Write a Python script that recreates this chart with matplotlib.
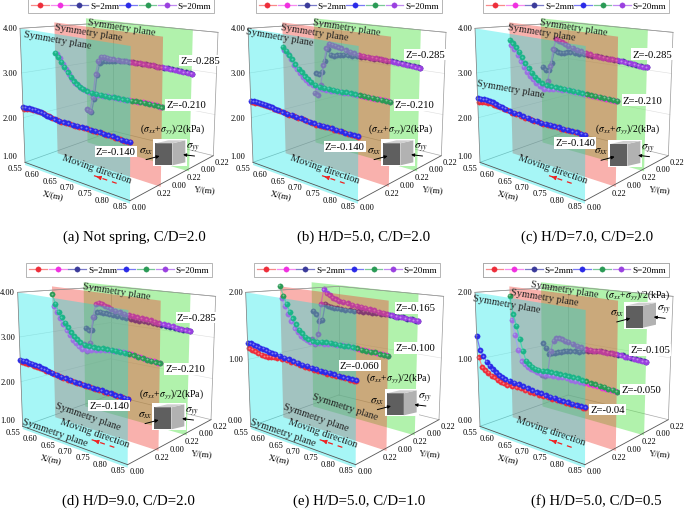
#!/usr/bin/env python3
import matplotlib
matplotlib.use('Agg')
import matplotlib.pyplot as plt
import numpy as np

plt.rcParams['font.family'] = ['Liberation Serif', 'DejaVu Serif']
plt.rcParams['mathtext.fontset'] = 'stix'

# the S=20mm runs use X_POS, the S=2mm runs sit half a step along
X_POS = [0.55, 0.5585, 0.567, 0.5755, 0.584, 0.5925, 0.601, 0.6095, 0.618, 0.6265,
         0.639, 0.6515, 0.664, 0.6765, 0.689, 0.7015, 0.714, 0.7265, 0.739, 0.7515,
         0.764, 0.7765, 0.789, 0.8015, 0.814, 0.8265, 0.839, 0.85]
X_POS_S2 = [0.554, 0.5625, 0.571, 0.5795, 0.588, 0.5965, 0.605, 0.6135, 0.622, 0.632,
            0.645, 0.6575, 0.67, 0.6825, 0.695, 0.7075, 0.72, 0.7325, 0.745, 0.7575,
            0.77, 0.7825, 0.795, 0.8075, 0.82, 0.8325, 0.844, 0.85]

# (a) Not spring, C/D=2.0
A_RED = [2.21,2.22,2.23,2.24,2.24,2.23,2.22,2.21,2.19,2.18,2.16,2.15,2.15,2.15,2.15,2.15,2.15,2.15,2.15,2.15,2.15,2.14,2.14,2.14,2.13,2.13,2.13,2.13]
A_BLUE = [2.23,2.24,2.25,2.25,2.25,2.24,2.23,2.22,2.20,2.19,2.17,2.16,2.16,2.16,2.16,2.16,2.16,2.16,2.16,2.16,2.16,2.15,2.15,2.15,2.14,2.14,2.14,2.14]
A_MAGENTA = [3.34,3.24,3.13,3.02,2.91,2.81,2.74,2.69,2.65,2.62,2.59,2.58,2.58,2.58,2.59,2.59,2.60,2.60,2.60,2.61,2.61,2.62,2.62,2.62,2.62,2.62,2.61,2.61]
A_GREEN = [3.36,3.27,3.17,3.06,2.95,2.85,2.77,2.71,2.67,2.64,2.60,2.59,2.59,2.59,2.59,2.59,2.60,2.60,2.60,2.61,2.61,2.62,2.62,2.62,2.62,2.62,2.61,2.61]
A_NAVY = [1.78,1.75,2.10,2.72,3.05,3.12,3.12,3.13,3.15,3.17,3.18,3.19,3.19,3.20,3.20,3.20,3.20,3.20,3.20,3.19,3.19,3.19,3.18,3.18,3.17,3.16,3.16,3.15]
A_PURPLE = [1.80,1.78,2.14,2.75,3.10,3.22,3.23,3.21,3.20,3.20,3.20,3.20,3.20,3.20,3.20,3.20,3.20,3.20,3.20,3.19,3.19,3.19,3.18,3.18,3.17,3.16,3.16,3.15]

# (b) H/D=5.0, C/D=2.0
B_RED = [2.35,2.36,2.37,2.37,2.37,2.36,2.35,2.34,2.33,2.32,2.31,2.30,2.30,2.29,2.28,2.27,2.26,2.25,2.25,2.25,2.25,2.25,2.25,2.25,2.24,2.24,2.24,2.24]
B_BLUE = [2.38,2.39,2.39,2.39,2.39,2.38,2.37,2.36,2.34,2.33,2.32,2.31,2.31,2.30,2.29,2.28,2.27,2.26,2.26,2.26,2.26,2.26,2.26,2.26,2.25,2.25,2.25,2.25]
B_MAGENTA = [3.42,3.34,3.24,3.12,3.02,2.94,2.87,2.81,2.76,2.73,2.70,2.69,2.69,2.69,2.70,2.70,2.71,2.72,2.72,2.72,2.72,2.72,2.72,2.72,2.73,2.73,2.73,2.73]
B_GREEN = [3.50,3.42,3.33,3.24,3.14,3.05,2.97,2.90,2.85,2.80,2.75,2.72,2.72,2.72,2.72,2.72,2.72,2.73,2.73,2.73,2.73,2.73,2.73,2.73,2.73,2.73,2.73,2.73]
B_NAVY = [2.74,2.72,2.80,3.10,3.41,3.27,3.26,3.28,3.30,3.32,3.33,3.33,3.34,3.34,3.34,3.34,3.34,3.34,3.34,3.34,3.34,3.33,3.33,3.32,3.31,3.30,3.29,3.28]
B_PURPLE = [2.23,2.17,2.45,2.98,3.42,3.55,3.53,3.51,3.49,3.47,3.44,3.42,3.40,3.38,3.37,3.36,3.35,3.35,3.35,3.34,3.34,3.33,3.33,3.32,3.31,3.30,3.29,3.28]

# (c) H/D=7.0, C/D=2.0
C_RED = [2.37,2.38,2.39,2.40,2.40,2.39,2.38,2.37,2.36,2.34,2.32,2.31,2.30,2.29,2.28,2.28,2.27,2.27,2.27,2.27,2.27,2.27,2.27,2.27,2.27,2.27,2.27,2.27]
C_BLUE = [2.43,2.44,2.45,2.45,2.44,2.43,2.41,2.39,2.38,2.36,2.34,2.33,2.32,2.31,2.30,2.29,2.29,2.28,2.28,2.28,2.28,2.28,2.28,2.28,2.28,2.28,2.28,2.28]
C_MAGENTA = [3.54,3.46,3.34,3.20,3.08,2.98,2.90,2.83,2.77,2.71,2.67,2.68,2.70,2.72,2.73,2.74,2.74,2.74,2.74,2.74,2.74,2.74,2.74,2.74,2.74,2.74,2.74,2.74]
C_GREEN = [3.67,3.60,3.52,3.42,3.30,3.17,3.07,2.98,2.90,2.84,2.78,2.76,2.76,2.76,2.76,2.76,2.76,2.76,2.76,2.75,2.75,2.75,2.75,2.75,2.75,2.75,2.75,2.75]
C_NAVY = [2.90,2.84,2.84,3.05,3.38,3.34,3.33,3.35,3.37,3.38,3.38,3.38,3.38,3.38,3.38,3.38,3.37,3.37,3.36,3.36,3.35,3.35,3.34,3.33,3.32,3.31,3.30,3.30]
C_PURPLE = [2.40,2.35,2.55,2.95,3.40,3.66,3.63,3.60,3.57,3.54,3.50,3.47,3.45,3.42,3.40,3.39,3.38,3.37,3.36,3.36,3.35,3.35,3.34,3.33,3.32,3.31,3.30,3.30]

# (d) H/D=9.0, C/D=2.0
D_RED = [2.45,2.45,2.45,2.45,2.44,2.43,2.42,2.41,2.40,2.39,2.37,2.35,2.34,2.33,2.33,2.32,2.31,2.31,2.30,2.30,2.29,2.29,2.28,2.28,2.27,2.27,2.27,2.27]
D_BLUE = [2.49,2.49,2.49,2.48,2.47,2.46,2.45,2.43,2.42,2.41,2.39,2.37,2.36,2.35,2.34,2.33,2.32,2.32,2.31,2.31,2.30,2.30,2.29,2.29,2.28,2.28,2.28,2.28]
D_MAGENTA = [3.62,3.50,3.35,3.22,3.10,3.00,2.90,2.84,2.78,2.74,2.74,2.76,2.78,2.80,2.82,2.83,2.84,2.85,2.85,2.85,2.84,2.83,2.82,2.81,2.80,2.79,2.78,2.78]
D_GREEN = [3.90,3.68,3.50,3.38,3.27,3.17,3.07,2.99,2.93,2.88,2.84,2.83,2.83,2.83,2.84,2.84,2.85,2.85,2.85,2.85,2.84,2.83,2.82,2.81,2.80,2.79,2.78,2.78]
D_NAVY = [2.98,2.93,2.95,3.30,3.42,3.45,3.44,3.43,3.42,3.42,3.41,3.40,3.39,3.38,3.38,3.37,3.37,3.36,3.36,3.35,3.35,3.34,3.34,3.33,3.32,3.31,3.31,3.30]
D_PURPLE = [2.55,2.40,2.62,3.30,3.62,3.67,3.66,3.62,3.59,3.56,3.53,3.51,3.49,3.48,3.46,3.45,3.44,3.43,3.42,3.40,3.38,3.37,3.36,3.35,3.33,3.32,3.31,3.30]

# (e) H/D=5.0, C/D=1.0
E_RED = [1.17,1.16,1.15,1.13,1.12,1.11,1.11,1.12,1.13,1.13,1.13,1.13,1.12,1.12,1.11,1.10,1.10,1.09,1.09,1.09,1.08,1.08,1.08,1.08,1.08,1.08,1.08,1.08]
E_BLUE = [1.25,1.25,1.24,1.23,1.22,1.21,1.20,1.19,1.18,1.18,1.17,1.16,1.15,1.14,1.13,1.12,1.12,1.11,1.11,1.10,1.10,1.10,1.10,1.09,1.09,1.09,1.09,1.09]
E_MAGENTA = [1.88,1.76,1.64,1.53,1.43,1.38,1.33,1.30,1.28,1.26,1.26,1.27,1.28,1.29,1.30,1.30,1.31,1.31,1.31,1.31,1.31,1.30,1.30,1.30,1.30,1.29,1.29,1.29]
E_GREEN = [2.07,1.92,1.80,1.68,1.58,1.50,1.42,1.37,1.33,1.30,1.28,1.29,1.30,1.31,1.31,1.31,1.31,1.31,1.31,1.31,1.31,1.30,1.30,1.30,1.30,1.29,1.29,1.29]
E_NAVY = [1.61,1.56,1.46,1.48,1.76,1.73,1.72,1.71,1.71,1.71,1.71,1.71,1.71,1.71,1.71,1.72,1.72,1.72,1.72,1.72,1.72,1.72,1.71,1.71,1.70,1.70,1.69,1.69]
E_PURPLE = [1.12,1.05,1.22,1.74,2.00,1.94,1.91,1.88,1.86,1.84,1.83,1.82,1.80,1.80,1.79,1.78,1.77,1.76,1.75,1.74,1.73,1.72,1.71,1.71,1.70,1.70,1.69,1.69]

# (f) H/D=5.0, C/D=0.5
F_RED = [1.04,0.90,0.87,0.84,0.81,0.80,0.78,0.76,0.75,0.74,0.74,0.75,0.75,0.74,0.74,0.74,0.73,0.73,0.73,0.73,0.73,0.73,0.73,0.73,0.73,0.73,0.73,0.73]
F_BLUE = [1.35,1.15,1.07,1.00,0.95,0.91,0.88,0.85,0.83,0.82,0.81,0.80,0.80,0.79,0.78,0.77,0.76,0.76,0.75,0.75,0.75,0.74,0.74,0.74,0.74,0.74,0.74,0.74]
F_MAGENTA = [1.53,1.30,1.07,0.90,0.86,0.83,0.81,0.80,0.79,0.78,0.78,0.78,0.79,0.79,0.80,0.80,0.80,0.80,0.80,0.80,0.80,0.80,0.80,0.79,0.79,0.79,0.79,0.79]
F_GREEN = [1.91,1.62,1.45,1.25,1.07,0.92,0.88,0.85,0.83,0.83,0.83,0.84,0.84,0.84,0.84,0.84,0.84,0.84,0.84,0.83,0.83,0.82,0.82,0.81,0.81,0.80,0.80,0.79]
F_NAVY = [1.05,0.99,0.89,0.91,0.93,0.95,0.97,0.99,1.00,1.01,1.02,1.03,1.05,1.07,1.08,1.09,1.10,1.10,1.10,1.10,1.10,1.10,1.09,1.09,1.08,1.08,1.07,1.07]
F_PURPLE = [0.50,0.49,0.58,0.95,1.13,1.18,1.19,1.18,1.17,1.16,1.14,1.12,1.11,1.09,1.09,1.09,1.10,1.10,1.10,1.10,1.10,1.10,1.09,1.09,1.08,1.08,1.07,1.07]

CAPTIONS = ['(a) Not spring, C/D=2.0', '(b) H/D=5.0, C/D=2.0', '(c) H/D=7.0, C/D=2.0',
            '(d) H/D=9.0, C/D=2.0', '(e) H/D=5.0, C/D=1.0', '(f) H/D=5.0, C/D=0.5']
Z_NAMES = [['Z=-0.285', 'Z=-0.210', 'Z=-0.140'], ['Z=-0.285', 'Z=-0.210', 'Z=-0.140'],
           ['Z=-0.285', 'Z=-0.210', 'Z=-0.140'], ['Z=-0.285', 'Z=-0.210', 'Z=-0.140'],
           ['Z=-0.165', 'Z=-0.100', 'Z=-0.060'], ['Z=-0.105', 'Z=-0.050', 'Z=-0.04']]
X_TICKS = [0.55, 0.60, 0.65, 0.70, 0.75, 0.80, 0.85]
Y_LABELS = ['0.00', '0.22', '0.00', '0.22', '0.00', '0.22']
Y_DEPTHS = [0.0, 0.30, 0.48, 0.66, 0.83, 1.0]
COLORS = ['#ee2d3a', '#f030e0', '#3a3a9a', '#2a2ae8', '#2a9a55', '#9a40e0']
LINE_COLORS = ['#f88a8a', '#f78af0', '#7a7ac8', '#7a7af5', '#7ac898', '#c08af0']
LEG_LABELS = ['', '', 'S=2mm', '', '', 'S=20mm']

# Layout below in "zoom" units: 3 units per pixel, measured from each panel's crop corner
ORIGINS = [(0, 0), (228, 0), (455, 0), (0, 255), (228, 255), (455, 255)]
BOX_SHIFT = [(0, 0), (0, 0), (0, 0), (-7, 27), (-7, 27), (0, 27)]
Z_RANGE = [(1, 4), (1, 4), (1, 4), (1, 4), (0, 2), (0, 2)]
Z_TICKS = [[1, 2, 3, 4], [1, 2, 3, 4], [1, 2, 3, 4], [1, 2, 3, 4], [0, 1, 2], [0, 1, 2]]
SYM_POS = [[(365, 85, -9), (265, 100, -9), (172, 123, -10)],
           [(355, 85, -9), (260, 100, -9), (155, 112, -10)],
           [(355, 85, -9), (260, 98, -9), (168, 268, -10)],
           [(350, 110, -9), (265, 485, -19), (165, 535, -19)],
           [(350, 458, -18), (265, 490, -19), (165, 535, -19)],
           [(330, 105, -9), (270, 128, -9), (155, 150, -10)]]
Z_POS = [[(600, 185), (558, 318), (347, 458)], [(592, 166), (560, 318), (350, 442)],
         [(592, 165), (563, 303), (360, 432)], [(590, 190), (555, 345), (328, 455)],
         [(563, 162), (562, 282), (395, 335)], [(585, 288), (558, 407), (458, 467)]]
FORMULA_POS = [(518, 388), (518, 388), (518, 388), (515, 418), (512, 370), (548, 120)]
CUBE_POS = [(508, 460), (508, 460), (508, 462), (505, 487), (518, 445), (555, 182)]
LEGEND_POS = [(364, 21), (362, 21), (364, 21), (358, 47), (358, 47), (362, 47)]
CAPTION_POS = [(403, 712), (406, 712), (396, 712), (385, 738), (393, 738), (425, 738)]
MOVE_POS = [(290, 510), (290, 510), (293, 508), (285, 537), (285, 537), (287, 530)]

BOX_A = (75, 490)    # bottom left
BOX_B = (390, 605)   # bottom front
BOX_C = (640, 470)   # bottom right
BOX_D = (339, 396)   # bottom back
BOX_E = (60, 88)     # top left
BOX_F = (392, 141)   # top front
BOX_G = (654, 100)   # top right
BOX_H = (339, 70)    # top back


def project(panel, x, d, z):
    # bilinear box: x along the front edge, d towards the back, z upward
    ox, oy = ORIGINS[panel]
    sx, sy = BOX_SHIFT[panel]
    zmin, zmax = Z_RANGE[panel]
    t = (np.asarray(x, dtype=float) - 0.55) / 0.30
    n = (np.asarray(z, dtype=float) - zmin) / (zmax - zmin)
    out = []
    for k in range(2):
        low = (1-t)*(1-d)*BOX_A[k] + t*(1-d)*BOX_B[k] + (1-t)*d*BOX_D[k] + t*d*BOX_C[k]
        top = (1-t)*(1-d)*BOX_E[k] + t*(1-d)*BOX_F[k] + (1-t)*d*BOX_H[k] + t*d*BOX_G[k]
        out.append(low + n*(top - low))
    return ox + (out[0] + sx)/3, oy + (out[1] + sy)/3


def loc(panel, zx, zy):
    ox, oy = ORIGINS[panel]
    return ox + zx/3, oy + zy/3


def draw_plane(ax, panel, d, color, alpha, zorder, over):
    zmin, zmax = Z_RANGE[panel]
    span = zmax - zmin
    xs = [0.55, 0.85, 0.85, 0.55]
    zs = [zmin - 0.02*span, zmin - 0.02*span, zmax + over*span, zmax + over*span]
    px, py = project(panel, xs, d, zs)
    ax.fill(px, py, color=color, alpha=alpha, lw=0, zorder=zorder)


def draw_curve(ax, panel, d, xs, values, idx, zorder):
    px, py = project(panel, xs, d, values)
    line, = ax.plot(px, py, color=LINE_COLORS[idx], lw=0.9, marker='o', ms=3.9,
                    mfc=COLORS[idx], mec=COLORS[idx], mew=0.2, label=LEG_LABELS[idx],
                    zorder=zorder)
    # small highlight so the points read as balls
    ax.plot(px - 0.5, py - 0.5, ls='none', marker='o', ms=1.4, mfc='white', mec='none',
            alpha=0.4, zorder=zorder)
    return line


def edge(ax, panel, a, b, color, lw, zorder):
    # a and b are (x, depth, z) corners of the box
    p0 = project(panel, a[0], a[1], a[2])
    p1 = project(panel, b[0], b[1], b[2])
    ax.plot([p0[0], p1[0]], [p0[1], p1[1]], color=color, lw=lw, zorder=zorder)


def draw_box(ax, panel):
    zmin, zmax = Z_RANGE[panel]
    for z in [zmin, zmax]:
        edge(ax, panel, (0.55, 1, z), (0.85, 1, z), '#aaaaaa', 0.5, 1)
        edge(ax, panel, (0.55, 1, z), (0.55, 0, z), '#aaaaaa', 0.5, 1)
    edge(ax, panel, (0.55, 1, zmin), (0.55, 1, zmax), '#aaaaaa', 0.5, 1)
    # grid on the back walls
    for z in Z_TICKS[panel][1:-1]:
        edge(ax, panel, (0.55, 0, z), (0.55, 1, z), '#dddddd', 0.4, 1)
        edge(ax, panel, (0.55, 1, z), (0.85, 1, z), '#dddddd', 0.4, 1)


def draw_axes_front(ax, panel):
    zmin, zmax = Z_RANGE[panel]
    edge(ax, panel, (0.55, 0, zmin), (0.85, 0, zmin), '#555555', 0.6, 8)
    edge(ax, panel, (0.85, 0, zmin), (0.85, 1, zmin), '#555555', 0.6, 8)
    edge(ax, panel, (0.55, 0, zmin), (0.55, 0, zmax), '#777777', 0.5, 8)
    edge(ax, panel, (0.85, 1, zmin), (0.85, 1, zmax), '#999999', 0.5, 8)
    edge(ax, panel, (0.55, 0, zmax), (0.55, 1, zmax), '#999999', 0.5, 8)
    edge(ax, panel, (0.85, 1, zmax), (0.55, 1, zmax), '#999999', 0.5, 8)
    for x in X_TICKS:
        a, b = project(panel, x, 0, zmin)
        ax.text(a - 10, b + 5.5, '%.2f' % x, fontsize=6, ha='center', va='center', zorder=9)
    left = project(panel, 0.55, 0, zmax)[0] - 2.7
    for i, z in enumerate(Z_TICKS[panel]):
        b = project(panel, 0.55, 0, z)[1]
        ax.text(left, b - (6 if i == 0 else 0), '%.2f' % z, fontsize=6, ha='right', va='center', zorder=9)
    for lab, d in zip(Y_LABELS, Y_DEPTHS):
        a, b = project(panel, 0.85, d, zmin)
        ax.text(a + 9, b + 6, lab, fontsize=6, ha='center', va='center', zorder=9)
    a, b = project(panel, 0.62, 0, zmin)
    ax.text(a + 4, b + 23, 'X/(m)', fontsize=6.3, rotation=-12, ha='center', va='center', zorder=9)
    a, b = project(panel, 0.85, 0.75, zmin)
    ax.text(a + 12, b + 22, 'Y/(m)', fontsize=6.3, rotation=-5, ha='center', va='center', zorder=9)


def draw_cube(ax, panel):
    cx, cy = loc(panel, *CUBE_POS[panel])
    ax.fill([cx-16, cx+18, cx+18, cx-16], [cy-13, cy-13, cy+14, cy+14], color='white', lw=0, zorder=10)
    ax.fill([cx-14, cx+3, cx+3, cx-14], [cy-9, cy-9, cy+13, cy+13], color='#5f5f5f', lw=0, zorder=11)
    ax.fill([cx+3, cx+16, cx+16, cx+3], [cy-9, cy-12, cy+10, cy+13], color='#b2b2b2', lw=0, zorder=11)
    ax.fill([cx-14, cx-1, cx+16, cx+3], [cy-9, cy-12, cy-12, cy-9], color='#cfcfcf', lw=0, zorder=11)
    ax.annotate('', xy=(cx-7, cy+3), xytext=(cx-26, cy+8), zorder=12,
                arrowprops=dict(arrowstyle='-|>', color='black', lw=0.7, mutation_scale=4.5))
    ax.annotate('', xy=(cx+11, cy+2), xytext=(cx+28, cy+4), zorder=12,
                arrowprops=dict(arrowstyle='-|>', color='black', lw=0.7, mutation_scale=4.5))
    ax.text(cx-23, cy-2, r'$\sigma_{xx}$', fontsize=8, ha='center', va='center', zorder=12)
    ax.text(cx+24, cy-5, r'$\sigma_{yy}$', fontsize=8, ha='center', va='center', zorder=12)


def draw_panel(ax, panel, series):
    red, blue, magenta, green, navy, purple = series
    draw_box(ax, panel)
    draw_plane(ax, panel, 0.71, '#64e65a', 0.5, 2, 0.05)
    l_navy = draw_curve(ax, panel, 0.71, X_POS_S2, navy, 2, 3)
    l_purple = draw_curve(ax, panel, 0.71, X_POS, purple, 5, 3)
    draw_plane(ax, panel, 0.37, '#f03c32', 0.4, 4, 0.03)
    l_magenta = draw_curve(ax, panel, 0.37, X_POS_S2, magenta, 1, 5)
    l_green = draw_curve(ax, panel, 0.37, X_POS, green, 4, 5)
    draw_plane(ax, panel, 0.0, '#00e6e6', 0.35, 6, 0.0)
    l_red = draw_curve(ax, panel, 0.0, X_POS_S2, red, 0, 7)
    l_blue = draw_curve(ax, panel, 0.0, X_POS, blue, 3, 7)
    draw_axes_front(ax, panel)

    for (zx, zy, rot) in SYM_POS[panel]:
        px, py = loc(panel, zx, zy)
        ax.text(px, py, 'Symmetry plane', fontsize=7.5, rotation=rot, ha='center', va='center',
                color='#222222', zorder=9)
    for name, (zx, zy) in zip(Z_NAMES[panel], Z_POS[panel]):
        px, py = loc(panel, zx, zy)
        ax.text(px, py, name, fontsize=7.7, ha='center', va='center', zorder=9,
                bbox=dict(fc='white', ec='none', pad=0.8))

    # moving direction, on the floor of the front plane
    sx, sy = BOX_SHIFT[panel]
    px, py = loc(panel, *MOVE_POS[panel])
    ax.text(px, py, 'Moving direction', fontsize=7.5, rotation=-19, ha='center', va='center',
            color='#222222', zorder=9)
    p0 = loc(panel, 350 + sx, 553 + sy)
    p1 = loc(panel, 282 + sx, 530 + sy)
    ax.plot([p0[0], p1[0]], [p0[1], p1[1]], color='#ee2222', lw=0.9, ls=(0, (4, 4)), zorder=9)
    ax.annotate('', xy=p1, xytext=(p1[0] + 6, p1[1] + 2), zorder=9,
                arrowprops=dict(arrowstyle='-|>', color='#ee2222', lw=0.8, mutation_scale=6))

    px, py = loc(panel, *FORMULA_POS[panel])
    ax.text(px, py, r'($\sigma_{xx}$+$\sigma_{yy}$)/2(kPa)', fontsize=7, ha='center', va='center', zorder=9)
    draw_cube(ax, panel)

    px, py = loc(panel, *LEGEND_POS[panel])
    leg = ax.legend(handles=[l_red, l_magenta, l_navy, l_blue, l_green, l_purple],
                    labels=LEG_LABELS, ncols=6, loc='center', bbox_to_anchor=(px, py),
                    bbox_transform=ax.transData, fontsize=6.6, frameon=True, fancybox=False,
                    edgecolor='#999999', framealpha=1, handlelength=1.94, handletextpad=0.2,
                    columnspacing=0.0, borderpad=0.3, borderaxespad=0, numpoints=1)
    leg.get_frame().set_linewidth(0.5)
    leg.set_zorder(12)
    ax.add_artist(leg)

    px, py = loc(panel, *CAPTION_POS[panel])
    ax.text(px, py, CAPTIONS[panel], fontsize=10.7, ha='center', va='center', zorder=9)


fig = plt.figure(figsize=(6.85, 5.10), dpi=100)
ax = fig.add_axes([0, 0, 1, 1])
ax.set_xlim(0, 685)
ax.set_ylim(510, 0)
ax.axis('off')

all_series = [
    (A_RED, A_BLUE, A_MAGENTA, A_GREEN, A_NAVY, A_PURPLE),
    (B_RED, B_BLUE, B_MAGENTA, B_GREEN, B_NAVY, B_PURPLE),
    (C_RED, C_BLUE, C_MAGENTA, C_GREEN, C_NAVY, C_PURPLE),
    (D_RED, D_BLUE, D_MAGENTA, D_GREEN, D_NAVY, D_PURPLE),
    (E_RED, E_BLUE, E_MAGENTA, E_GREEN, E_NAVY, E_PURPLE),
    (F_RED, F_BLUE, F_MAGENTA, F_GREEN, F_NAVY, F_PURPLE),
]
for panel, series in enumerate(all_series):
    draw_panel(ax, panel, series)

fig.savefig('out.png', dpi=100)
